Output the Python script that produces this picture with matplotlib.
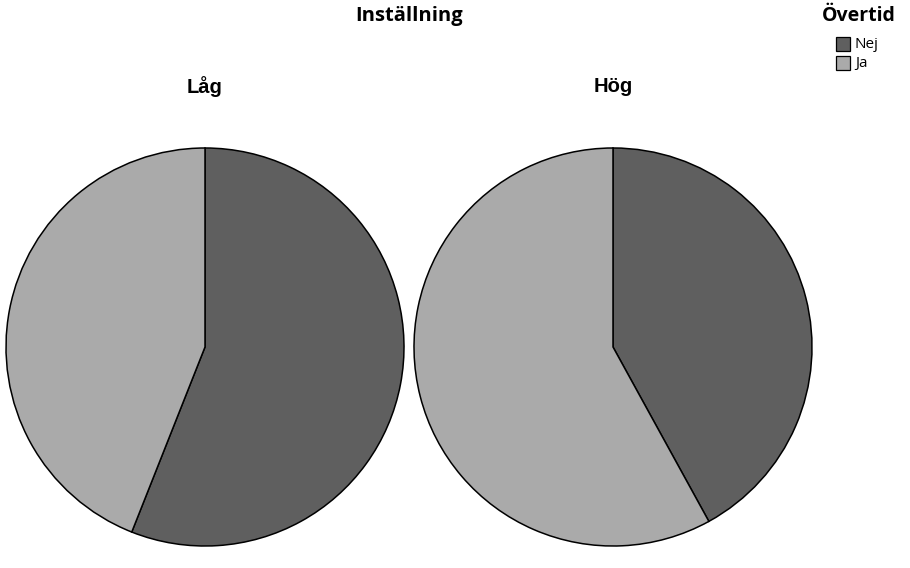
import matplotlib
matplotlib.use("Agg")
import matplotlib.pyplot as plt
from matplotlib.patches import Rectangle

groups = ["Låg", "Hög"]
categories = ["Nej", "Ja"]
values = {"Låg": [56, 44], "Hög": [42, 58]}
colors = ["#5f5f5f", "#aaaaaa"]

W, H = 910, 568
fig = plt.figure(figsize=(W / 100, H / 100), dpi=100)

def px(x, y):
    return x / W, 1 - y / H

centers = [205, 613]
R = 200
cy = 347
for g, cx in zip(groups, centers):
    ax = fig.add_axes([(cx - R) / W, (H - cy - R) / H, 2 * R / W, 2 * R / H])
    ax.pie(values[g], colors=colors, startangle=90, counterclock=False,
           radius=1, wedgeprops=dict(edgecolor="black", linewidth=1.1))
    ax.set_xlim(-1.005, 1.005)
    ax.set_ylim(-1.005, 1.005)
    ax.set_aspect("auto")
    ax.axis("off")
    fig.text(*px(cx, 87), g, ha="center", va="center", fontsize=14.5,
             fontweight="bold", family="Liberation Sans")

fig.text(*px(409, 16), "Inställning", ha="center", va="center", fontsize=14.5,
         fontweight="bold", family="Open Sans")
fig.text(*px(859, 16), "Övertid", ha="center", va="center", fontsize=14,
         fontweight="bold", family="Open Sans")

for i, cat in enumerate(categories):
    y0 = 37 + i * 19
    x0, y1 = px(836, y0 + 14)
    fig.patches.append(Rectangle((x0, y1), 14 / W, 14 / H, transform=fig.transFigure,
                                 facecolor=colors[i], edgecolor="black", linewidth=0.9))
    fig.text(*px(855, y0 + 7), cat, ha="left", va="center", fontsize=11,
             family="Open Sans")

fig.savefig("out.png", dpi=100)
